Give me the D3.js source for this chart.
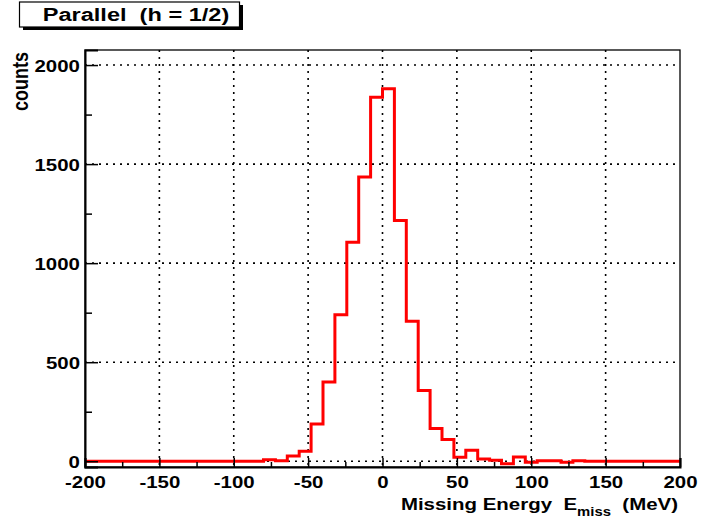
<!DOCTYPE html>
<html><head><meta charset="utf-8">
<script src="https://cdn.jsdelivr.net/npm/d3@7"></script>
<style>
body{margin:0;background:#fff;}
text{font-family:"Liberation Sans",Arial,Helvetica,sans-serif;font-weight:bold;fill:#000;}
</style></head>
<body><svg id="c" width="714" height="519"></svg>
<script>
// Histogram: 50 bins of 8 MeV from -200 to 200
const binEdgesStart = -200;
const binWidth = 8;
const counts = [0,0,0,0,0,0,0,0,0,0,0,0,0,0,0,
  7,2,27,50,188,400,740,1105,1435,1838,
  1880,1215,707,357,165,110,20,55,12,5,
  -12,22,-5,3,3,-5,3,0,0,0,0,0,0,0,0];
const xTicks = [-200,-150,-100,-50,0,50,100,150,200];
const xMinor = [-175,-125,-75,-25,25,75,125,175];
const yTicks = [0,500,1000,1500,2000];
const yMinor = [250,750,1250,1750];
const title = "Parallel  (h = 1/2)";
const yTitle = "counts";

const SX = 1.24; // horizontal stretch of glyphs in the reference
const svg = d3.select("#c");
const L=85,R=680,T=50,B=467;
const x = d3.scaleLinear().domain([-200,200]).range([L,R]);
const y = d3.scaleLinear().domain([-29,2076]).range([B,T]);

// grid
const grid = svg.append("g").attr("stroke","#000").attr("stroke-width",1.6).attr("stroke-dasharray","2,5");
grid.selectAll("line.v").data(xTicks.slice(1,-1)).enter().append("line")
  .attr("x1",d=>x(d)).attr("x2",d=>x(d)).attr("y1",T).attr("y2",B);
grid.selectAll("line.h").data(yTicks).enter().append("line")
  .attr("y1",d=>y(d)).attr("y2",d=>y(d)).attr("x1",L).attr("x2",R);

// histogram
const pts=[];
counts.forEach((c,i)=>{const x0=binEdgesStart+i*binWidth;pts.push([x0,c],[x0+binWidth,c]);});
svg.append("path").attr("d",d3.line().x(d=>x(d[0])).y(d=>y(d[1]))(pts))
  .attr("fill","none").attr("stroke","#ff0000").attr("stroke-width",3).attr("stroke-linejoin","miter");

// frame
svg.append("rect").attr("x",L).attr("y",T).attr("width",R-L).attr("height",B-T)
  .attr("fill","none").attr("stroke","#000").attr("stroke-width",1.3);

const fmt = d => String(d);
// axes
const xAxis = d3.axisBottom(x).tickValues(xTicks).tickSize(-9).tickFormat(fmt);
const gx = svg.append("g").attr("transform",`translate(0,${B})`).call(xAxis);
gx.select(".domain").attr("stroke-width",2);
gx.selectAll(".tick line").attr("stroke-width",1.5);
gx.selectAll("text").attr("font-size",16.5).attr("y",21.5).attr("dy",null)
  .attr("transform",`scale(${SX},1)`)
  .style("font-family","Liberation Sans, Arial, sans-serif").style("font-weight","bold");
svg.append("g").attr("transform",`translate(0,${B})`).call(d3.axisBottom(x).tickValues(xMinor).tickSize(-5).tickFormat(""))
  .call(g=>g.select(".domain").remove()).selectAll("line").attr("stroke-width",1.5);

const yAxis = d3.axisLeft(y).tickValues(yTicks).tickSize(-13).tickFormat(fmt);
const gy = svg.append("g").attr("transform",`translate(${L},0)`).call(yAxis);
gy.select(".domain").attr("stroke-width",2);
gy.selectAll(".tick line").attr("stroke-width",1.5);
gy.selectAll("text").attr("font-size",16.5).attr("x",-5/SX).attr("dy","0.36em")
  .attr("transform",`scale(${SX},1)`)
  .style("font-family","Liberation Sans, Arial, sans-serif").style("font-weight","bold");
svg.append("g").attr("transform",`translate(${L},0)`).call(d3.axisLeft(y).tickValues(yMinor).tickSize(-7).tickFormat(""))
  .call(g=>g.select(".domain").remove()).selectAll("line").attr("stroke-width",1.5);

// axis titles
const xt = svg.append("text").attr("transform",`translate(678,510) scale(${SX},1)`)
  .attr("text-anchor","end").attr("font-size",16.5).attr("xml:space","preserve");
xt.append("tspan").text("Missing Energy  E");
xt.append("tspan").attr("font-size",12).attr("dy",6).text("miss");
xt.append("tspan").attr("dy",-6).text("  (MeV)");
svg.append("text").attr("transform",`translate(28,52) rotate(-90) scale(1,${SX})`).attr("text-anchor","end")
  .attr("font-size",18).text(yTitle);

// title box
svg.append("rect").attr("x",23).attr("y",5).attr("width",220).attr("height",25).attr("fill","#000");
svg.append("rect").attr("x",19.5).attr("y",2).attr("width",220).attr("height",25).attr("fill","#fff").attr("stroke","#000").attr("stroke-width",1.2);
svg.append("text").attr("transform",`translate(136,21) scale(${SX},1)`).attr("text-anchor","middle").attr("font-size",19)
  .attr("xml:space","preserve").text(title);
</script></body></html>
